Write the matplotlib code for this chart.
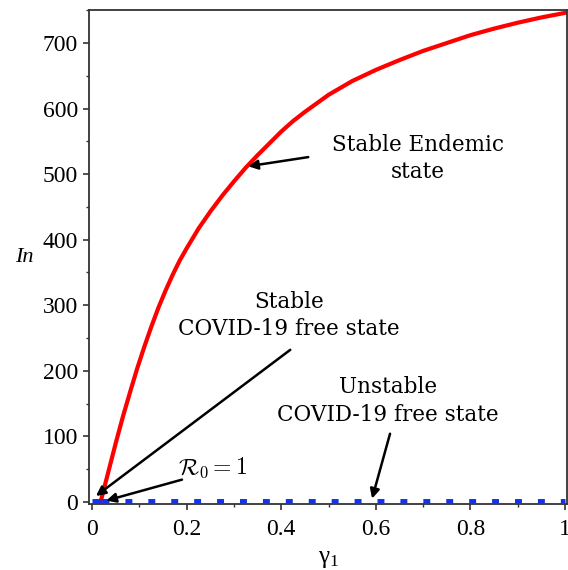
import numpy as np
import matplotlib
matplotlib.use('Agg')
import matplotlib.pyplot as plt
from matplotlib.ticker import MultipleLocator


# endemic equilibrium branch
gamma_endemic = [0.018, 0.02, 0.035, 0.05, 0.065, 0.08, 0.095, 0.11, 0.125,
                 0.14, 0.155, 0.17, 0.185, 0.2, 0.225, 0.25, 0.275, 0.3,
                 0.325, 0.35, 0.375, 0.4, 0.425, 0.45, 0.475, 0.5, 0.55,
                 0.6, 0.65, 0.7, 0.75, 0.8, 0.85, 0.9, 0.95, 1.0]
in_endemic = [0, 6, 48, 90, 130, 167, 203, 236, 267,
              296, 322, 346, 368, 387, 417, 443, 467, 489,
              510, 529, 547, 565, 581, 595, 608, 621, 642,
              659, 674, 688, 700, 712, 722, 731, 739, 746]

# disease free branch, In = 0
gamma_dfe_stable = [0.0, 0.02]
in_dfe_stable = [0, 0]
gamma_dfe_unstable = [0.02, 1.0]
in_dfe_unstable = [0, 0]

x_ticks = [0, 0.2, 0.4, 0.6, 0.8, 1.0]
x_ticklabels = ['0', '0.2', '0.4', '0.6', '0.8', '1']
y_ticks = [0, 100, 200, 300, 400, 500, 600, 700]

plt.rcParams['font.family'] = ['Liberation Serif', 'DejaVu Serif']

fig = plt.figure(figsize=(5.68, 5.70), dpi=100)
ax = fig.add_axes([0.157, 0.116, 0.841, 0.866])

blue = '#1234e6'
ax.plot(gamma_dfe_stable, in_dfe_stable, color=blue, lw=5,
        solid_capstyle='butt', zorder=3)
ax.plot(gamma_dfe_unstable, in_dfe_unstable, color=blue, lw=5,
        linestyle=(0, (1.0, 2.3)), dash_capstyle='butt', zorder=3)
ax.plot(gamma_endemic, in_endemic, color='red', lw=3.0, zorder=2,
        solid_joinstyle='round')

ax.set_xlim(-0.0063, 1.004)
ax.set_ylim(-3, 750)
ax.set_xticks(x_ticks)
ax.set_xticklabels(x_ticklabels)
ax.set_yticks(y_ticks)
ax.xaxis.set_minor_locator(MultipleLocator(0.1))
ax.yaxis.set_minor_locator(MultipleLocator(50))
ax.tick_params(which='major', length=4, width=1.2, labelsize=17, color='#333333')
ax.tick_params(axis='x', which='major', pad=7)
ax.tick_params(axis='y', which='major', pad=4)
ax.tick_params(which='minor', length=2.5, width=1.0, color='#333333')
for s in ax.spines.values():
    s.set_linewidth(1.3)
    s.set_color('#333333')

ax.text(-0.135, 0.5, 'In', transform=ax.transAxes, fontsize=16,
        style='italic', ha='center', va='center')
ax.text(0.5, -0.112, r'$\mathregular{γ_1}$', transform=ax.transAxes,
        fontsize=18, ha='center', va='center')

label_font = dict(family='DejaVu Serif', fontsize=15.5, ha='center', va='center',
                  linespacing=1.3)
arrow = dict(arrowstyle='-|>', color='black', lw=1.8, mutation_scale=14,
             shrinkA=0, shrinkB=0)

ax.text(0.689, 524, 'Stable Endemic\nstate', **label_font)
ax.annotate('', xy=(0.330, 512), xytext=(0.457, 526), arrowprops=arrow)

ax.text(0.416, 285, 'Stable\nCOVID-19 free state', **label_font)
ax.annotate('', xy=(0.008, 9), xytext=(0.419, 232), arrowprops=arrow)

ax.text(0.626, 154, 'Unstable\nCOVID-19 free state', **label_font)
ax.annotate('', xy=(0.592, 5), xytext=(0.630, 104), arrowprops=arrow)

ax.text(0.256, 52, r'$\mathcal{R}_0 = 1$', fontsize=17, ha='center',
        va='center', math_fontfamily='cm')
ax.annotate('', xy=(0.030, 2), xytext=(0.190, 34), arrowprops=arrow)

fig.savefig('out.png', dpi=100)
